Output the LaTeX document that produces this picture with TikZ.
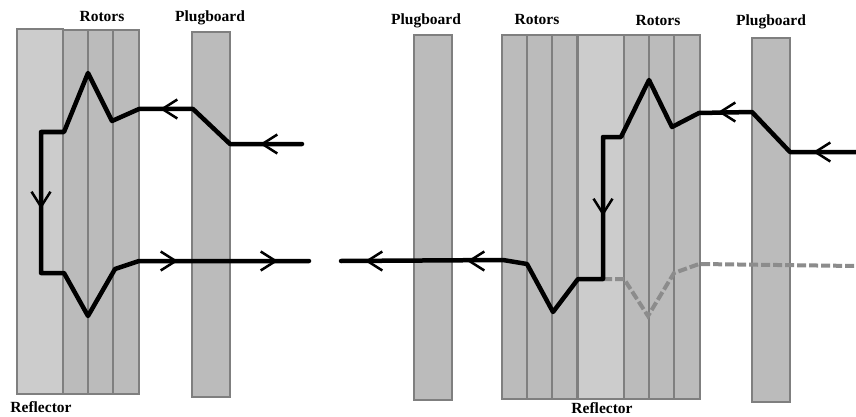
\documentclass[tikz,border=0pt]{standalone}
\usepackage{fontspec}
\setmainfont{Liberation Serif}
\usetikzlibrary{arrows.meta}
\definecolor{rotor-gray}{HTML}{BBBBBB}
\definecolor{reflector-gray}{HTML}{CCCCCC}
\definecolor{edge-gray}{HTML}{7F7F7F}
\tikzset{
    rotor-box/.style = {draw=edge-gray, fill=rotor-gray, line width=2pt, rectangle, inner sep=0pt, minimum width=25pt, minimum height=364pt},
    plug-box/.style = {rotor-box, minimum width=38pt},
    reflector-box/.style = {rotor-box, fill=reflector-gray, minimum width=46pt},
    part-title/.style = {font=\bfseries\fontsize{15.5}{17}\selectfont, inner sep=0pt},
    wire/.style = {line width=4.5pt, line join=round, line cap=round},
    ghost-wire/.style = {draw=edge-gray!90, line width=4pt, dash pattern=on 9pt off 3pt},
    wire-tip/.style = {line width=2.5pt, -{Straight Barb[length=15pt,width=19pt,line width=2.5pt]}},
}

\begin{document}
\begin{tikzpicture}[x=1pt,y=-1pt]
\useasboundingbox (0,0) rectangle (856,417);
% left machine
\node[reflector-box] (reflector-l) at (40,211.5) {};
\node[rotor-box] (rotor-l1) at (75.5,212) {};
\node[rotor-box] (rotor-l2) at (100,212) {};
\node[rotor-box, minimum width=26pt] (rotor-l3) at (126,212) {};
\node[plug-box] (plug-l) at (211,214.5) {};
% right machine
\node[plug-box] (plug-m) at (433,217.5) {};
\node[rotor-box] (rotor-m1) at (514.5,217) {};
\node[rotor-box] (rotor-m2) at (539.5,217) {};
\node[rotor-box] (rotor-m3) at (564.5,217) {};
\node[reflector-box] (reflector-r) at (601,217) {};
\node[rotor-box] (rotor-r1) at (636,217) {};
\node[rotor-box] (rotor-r2) at (661,217) {};
\node[rotor-box, minimum width=26pt] (rotor-r3) at (686.5,217) {};
\node[plug-box] (plug-r) at (771,220) {};
% titles
\node[part-title] (title-rotors-l) at (102,17) {Rotors};
\node[part-title] (title-plug-l) at (210,18) {Plugboard};
\node[part-title] (title-reflector-l) at (41,407) {Reflector};
\node[part-title] (title-plug-m) at (426,21) {Plugboard};
\node[part-title] (title-rotors-m) at (537,20) {Rotors};
\node[part-title] (title-rotors-r) at (658,21) {Rotors};
\node[part-title] (title-plug-r) at (771,22) {Plugboard};
\node[part-title] (title-reflector-r) at (602,408) {Reflector};
% wire ends
\coordinate (in-l) at (302,144);
\coordinate (out-l) at (309,261);
\coordinate (in-r) at (856,152);
\coordinate (out-r) at (341,261);
\coordinate (turn-r) at (603,279);
% wires
\draw[ghost-wire] (turn-r) -- (624,279) -- (648,316) -- (674,273) -- (699,264) -- (856,266);
\draw[wire] (in-l) -- (230,144) -- (193,109) -- (139,109) -- (112,121) -- (88,73) -- (64,132) -- (41,132) -- (41,273) -- (64,273) -- (88,316) -- (115,269) -- (139,261) -- (out-l);
\draw[wire] (in-r) -- (790,152) -- (752,112) -- (699,113) -- (672,127) -- (649,80) -- (621,137) -- (603,137) -- (turn-r) -- (578,279) -- (553,312) -- (527,264) -- (503,260) -- (out-r);
% arrow heads
\foreach \xa/\ya/\xb/\yb in {275/144/260/144, 175/109/160/109, 41/194/41/209, 163/261/178/261, 263/261/278/261, 733/112/718/112, 828/152/813/152, 603/201/603/216, 482/261/467/261, 380/261/365/261}
    \draw[wire-tip] (\xa,\ya) -- (\xb,\yb);
\end{tikzpicture}
\end{document}
